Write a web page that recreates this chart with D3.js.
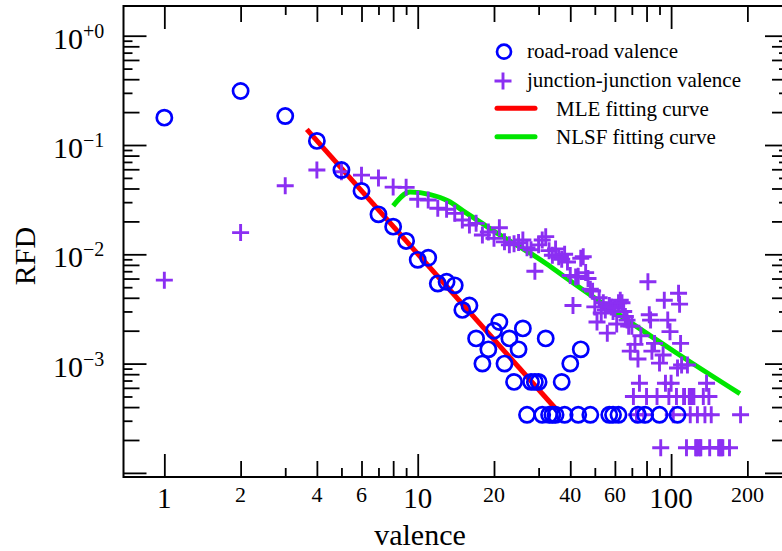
<!DOCTYPE html>
<html>
<head>
<meta charset="utf-8">
<script src="https://cdn.jsdelivr.net/npm/d3@7"></script>
<style>
  body { margin: 0; background: #fff; }
  text { font-family: "Liberation Serif", "Times New Roman", serif; fill: #000; }
</style>
</head>
<body>
<div id="chart"></div>
<script>
// road-road valence (circles)
const roadValence = [1, 2, 3, 4, 5, 6, 7, 8, 9, 10, 11, 12, 13, 14, 15, 16, 17, 18, 19, 20,
  21, 22, 23, 24, 25, 26, 28, 29, 30, 32, 37, 40, 44,
  27, 31, 33, 34, 35, 38, 43, 48, 57, 59, 62, 74, 79, 90, 106];
const roadRFD = [0.178, 0.312, 0.184, 0.109, 0.059, 0.038, 0.0232, 0.0179, 0.01325, 0.0089,
  0.0093, 0.0054, 0.0056, 0.0052, 0.0031, 0.0034, 0.0017, 0.0010, 0.00135, 0.0020,
  0.0024, 0.0010, 0.0017, 0.00068, 0.00135, 0.0021, 0.00068, 0.00068, 0.00068, 0.0017, 0.00068, 0.0010, 0.00135,
  0.00034, 0.00034, 0.00034, 0.00034, 0.00034, 0.00034, 0.00034, 0.00034, 0.00034, 0.00034, 0.00034, 0.00034, 0.00034, 0.00034, 0.00034];

// junction-junction valence (pluses)
const junctionValence = [1, 2, 3, 4, 5, 6, 7, 8, 9, 10, 11, 12, 13, 14, 15, 16, 17, 18, 19, 20,
  21, 22, 23, 24, 25, 26, 27, 28, 29, 30, 31, 32, 33, 34, 35, 36, 37, 38, 39, 40,
  41, 42, 43, 44, 45, 46, 47, 48, 49, 50, 51, 52, 53, 54, 55, 56, 57, 58, 59, 60,
  61, 62, 63, 64, 65, 66, 67, 68, 69, 70, 71, 72, 73, 74, 75, 76, 78, 80, 81, 82,
  83, 84, 86, 88, 90, 91, 93, 94, 95, 97, 98, 99, 100, 102, 105, 106, 107, 108, 109, 110,
  112, 113, 115, 116, 118, 119, 120, 121, 122, 123, 125, 126, 127, 128, 130, 131, 134, 136, 138, 141,
  142, 144, 154, 156, 158, 160, 170, 188];
const junctionRFD = [0.0058, 0.0158, 0.0424, 0.059, 0.057, 0.053, 0.050, 0.0412, 0.0410, 0.0319,
  0.0314, 0.0264, 0.0258, 0.0237, 0.0206, 0.0185, 0.0192, 0.0150, 0.0160, 0.0140,
  0.0175, 0.0130, 0.0122, 0.0125, 0.0128, 0.0135, 0.0115, 0.0110, 0.0070, 0.0122,
  0.0135, 0.0145, 0.0108, 0.0098, 0.0112, 0.0095, 0.0090, 0.0100, 0.0085, 0.0064,
  0.0034, 0.0062, 0.0063, 0.0092, 0.0095, 0.0068, 0.0060, 0.0048, 0.0046, 0.0033,
  0.0024, 0.0040, 0.0029, 0.0036, 0.0031, 0.0019, 0.0034, 0.0033, 0.0030, 0.0032,
  0.0023, 0.0036, 0.0038, 0.0036, 0.0030, 0.0027, 0.0025, 0.0022, 0.0013, 0.0022,
  0.0005, 0.0015, 0.00034, 0.0011, 0.00066, 0.0018, 0.00034, 0.0005, 0.0056, 0.0028,
  0.0025, 0.0013, 0.00153, 0.0005, 0.00101, 0.00017, 0.0012, 0.0038, 0.00066, 0.0025,
  0.0005, 0.00196, 0.00066, 0.00034, 0.0005, 0.00091, 0.0044, 0.0035, 0.00153, 0.00097,
  0.0005, 0.0005, 0.00017, 0.00097, 0.0005, 0.00034, 0.0005, 0.0005, 0.0005, 0.0005,
  0.00017, 0.00017, 0.00034, 0.00017, 0.00017, 0.00017, 0.0005, 0.00034, 0.00066, 0.0005,
  0.00017, 0.00034, 0.00017, 0.00017, 0.00017, 0.00017, 0.00017, 0.00034];

// fitted curves
const mleValence = [3.65, 35.4];
const mleRFD = [0.139, 0.000376];
const nlsfValence = [8.0, 9.33, 11.2, 13.2, 15.1, 17.6, 20.5, 23.8, 27.7, 32.3, 37.6, 43.7, 66.8, 105, 187];
const nlsfRFD = [0.0277, 0.0371, 0.0352, 0.0307, 0.0250, 0.0198, 0.0157, 0.0127, 0.0103, 0.00815, 0.00633, 0.00495, 0.00251, 0.00125, 0.00053];

// tick values
const xMajor = [1, 10, 100];
const xMedium = [2, 4, 6, 8, 20, 40, 60, 80, 200];
const xMinor = [3, 5, 7, 9, 30, 50, 70, 90];
const yMajor = [1, 0.1, 0.01, 0.001, 0.0001];
const yMajorExp = ["+0", "\u22121", "\u22122", "\u22123"];
const yMedium = [0.8, 0.6, 0.4, 0.2, 0.08, 0.06, 0.04, 0.02, 0.008, 0.006, 0.004, 0.002, 0.0008, 0.0006, 0.0004, 0.0002];
const yMinor = [0.9, 0.7, 0.5, 0.3, 0.09, 0.07, 0.05, 0.03, 0.009, 0.007, 0.005, 0.003, 0.0009, 0.0007, 0.0005, 0.0003];

const legendLabels = ["road-road valence", "junction-junction valence", "MLE fitting curve", "NLSF fitting curve"];

const width = 782, height = 551;
const box = { left: 123.5, right: 788, top: 6, bottom: 477 };
const blue = "#0000ff", purple = "#8b2ff2", red = "#ff0000", green = "#00e600";

var svg = d3.select("#chart")
  .append("svg")
  .attr("width", width)
  .attr("height", height);

var x = d3.scaleLog()
  .domain([0.69, 289.3])
  .range([box.left, box.right]);

var y = d3.scaleLog()
  .domain([9.17e-5, 1.87])
  .range([box.bottom, box.top]);

// ticks on all four sides, pointing inward
function tickSet(values, len) {
  svg.append("g").attr("class", "ticks")
    .attr("transform", "translate(0," + box.bottom + ")")
    .call(d3.axisBottom(x).tickValues(values.x || []).tickSize(-len).tickFormat(""));
  svg.append("g").attr("class", "ticks")
    .attr("transform", "translate(0," + box.top + ")")
    .call(d3.axisTop(x).tickValues(values.x || []).tickSize(-len).tickFormat(""));
  svg.append("g").attr("class", "ticks")
    .attr("transform", "translate(" + box.left + ",0)")
    .call(d3.axisLeft(y).tickValues(values.y || []).tickSize(-len).tickFormat(""));
  svg.append("g").attr("class", "ticks")
    .attr("transform", "translate(" + box.right + ",0)")
    .call(d3.axisRight(y).tickValues(values.y || []).tickSize(-len).tickFormat(""));
}
tickSet({ x: xMajor, y: yMajor }, 23);
tickSet({ x: xMedium, y: yMedium }, 16);
tickSet({ x: xMinor, y: yMinor }, 9);

svg.selectAll(".ticks .domain").remove();
svg.selectAll(".ticks line").attr("stroke", "#000").attr("stroke-width", 1.8);

// frame
svg.append("rect")
  .attr("x", box.left)
  .attr("y", box.top)
  .attr("width", box.right - box.left)
  .attr("height", box.bottom - box.top)
  .attr("fill", "none")
  .attr("stroke", "#000")
  .attr("stroke-width", 2);

// x tick labels
svg.selectAll(".xbig")
  .data(xMajor)
  .enter().append("text")
  .attr("x", d => x(d))
  .attr("y", 508)
  .attr("text-anchor", "middle")
  .style("font-size", "29px")
  .text(d => d);
svg.selectAll(".xsmall")
  .data(xMedium.filter(d => d !== 8 && d !== 80))
  .enter().append("text")
  .attr("x", d => x(d))
  .attr("y", 502)
  .attr("text-anchor", "middle")
  .style("font-size", "22px")
  .text(d => d);

// y tick labels, 10 with exponent
var yLab = svg.selectAll(".ylab")
  .data(yMajor.slice(0, 4))
  .enter().append("text")
  .attr("x", 53)
  .attr("y", d => y(d) + 13)
  .style("font-size", "30px");
yLab.append("tspan").text("10");
yLab.append("tspan")
  .attr("dy", -11)
  .style("font-size", "20px")
  .text((d, i) => yMajorExp[i]);

// axis titles
svg.append("text")
  .attr("x", 420)
  .attr("y", 545)
  .attr("text-anchor", "middle")
  .style("font-size", "30px")
  .text("valence");
svg.append("text")
  .attr("transform", "translate(35,256) rotate(-90)")
  .attr("text-anchor", "middle")
  .style("font-size", "30px")
  .text("RFD");

// fitting curves
var line = d3.line()
  .x(d => x(d[0]))
  .y(d => y(d[1]));

svg.append("path")
  .datum(mleValence.map((v, i) => [v, mleRFD[i]]))
  .attr("d", line)
  .attr("fill", "none")
  .attr("stroke", red)
  .attr("stroke-width", 5);

svg.append("path")
  .datum(nlsfValence.map((v, i) => [v, nlsfRFD[i]]))
  .attr("d", line.curve(d3.curveMonotoneX))
  .attr("fill", "none")
  .attr("stroke", green)
  .attr("stroke-width", 5);

// scatter
const plusPath = "M-8.5,0H8.5M0,-8.5V8.5";

svg.append("g")
  .selectAll("path")
  .data(junctionValence.map((v, i) => [v, junctionRFD[i]]))
  .enter().append("path")
  .attr("d", plusPath)
  .attr("transform", d => "translate(" + x(d[0]) + "," + y(d[1]) + ")")
  .attr("fill", "none")
  .attr("stroke", purple)
  .attr("stroke-width", 2.9);

svg.append("g")
  .selectAll("circle")
  .data(roadValence.map((v, i) => [v, roadRFD[i]]))
  .enter().append("circle")
  .attr("cx", d => x(d[0]))
  .attr("cy", d => y(d[1]))
  .attr("r", 7.6)
  .attr("fill", "none")
  .attr("stroke", blue)
  .attr("stroke-width", 2.7);

// legend
var legend = svg.append("g");
legend.append("circle")
  .attr("cx", 504).attr("cy", 51.7).attr("r", 7)
  .attr("fill", "none").attr("stroke", blue).attr("stroke-width", 2.7);
legend.append("path")
  .attr("d", plusPath)
  .attr("transform", "translate(503,81)")
  .attr("fill", "none").attr("stroke", purple).attr("stroke-width", 2.9);
legend.append("line")
  .attr("x1", 497).attr("x2", 535).attr("y1", 108.3).attr("y2", 108.3)
  .attr("stroke", red).attr("stroke-width", 5).attr("stroke-linecap", "round");
legend.append("line")
  .attr("x1", 497).attr("x2", 535).attr("y1", 136.7).attr("y2", 136.7)
  .attr("stroke", green).attr("stroke-width", 5).attr("stroke-linecap", "round");

const legendX = [527, 527, 556, 556];
const legendY = [57.5, 86.5, 115.5, 144];
legend.selectAll("text")
  .data(legendLabels)
  .enter().append("text")
  .attr("x", (d, i) => legendX[i])
  .attr("y", (d, i) => legendY[i])
  .style("font-size", "21px")
  .text(d => d);
</script>
</body>
</html>
